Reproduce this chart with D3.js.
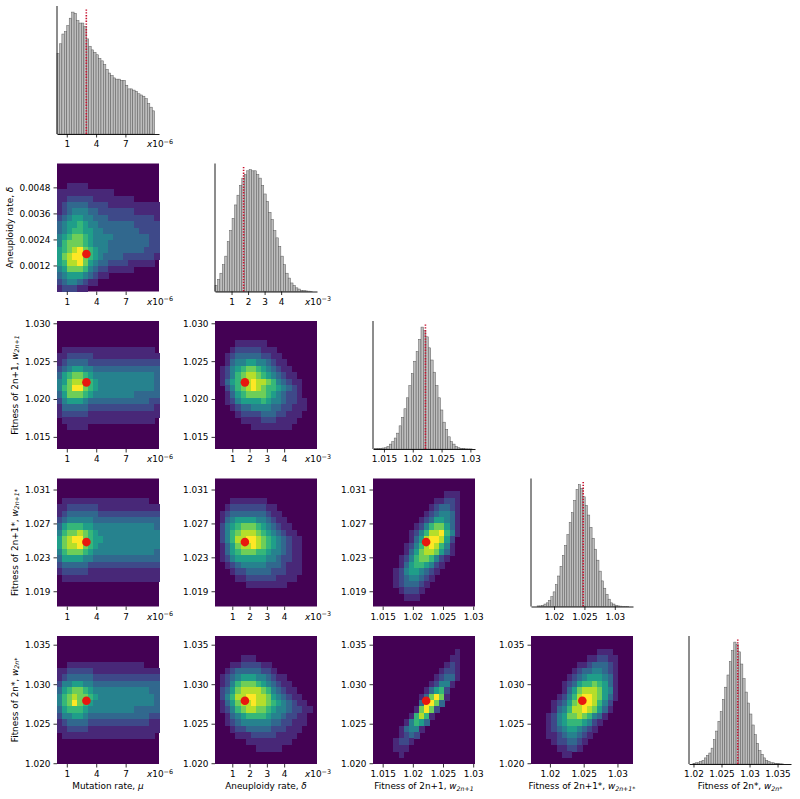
<!DOCTYPE html>
<html><head><meta charset="utf-8">
<script src="https://cdn.jsdelivr.net/npm/d3@7"></script>
<style>body{margin:0;background:#fff}svg{display:block}text{font-family:"DejaVu Sans",sans-serif}</style>
</head><body><svg id="c" width="800" height="799"></svg>
<script>
// ---------- data ----------
const paramNames = ["mu", "delta", "w2n1", "w2n1s", "w2ns"];
const trueValues = [3.0e-6, 0.00173, 1.0222, 1.0248, 1.0279];

// 1D histograms (relative heights, 40 bins each)
const muHist = [0.66,0.74,0.82,0.84,0.89,0.95,1.0,0.99,0.93,0.91,0.91,0.88,0.78,0.72,0.69,0.67,0.65,0.62,0.60,0.57,
                0.53,0.50,0.48,0.46,0.45,0.45,0.44,0.44,0.40,0.37,0.37,0.36,0.35,0.33,0.32,0.31,0.29,0.25,0.22,0.19];
const deltaHist = [0.05,0.10,0.15,0.22,0.29,0.41,0.50,0.60,0.71,0.79,0.87,0.93,0.96,0.99,1.0,0.99,0.99,0.96,0.93,0.87,
                   0.80,0.74,0.65,0.59,0.50,0.44,0.37,0.29,0.22,0.15,0.11,0.07,0.05,0.03,0.02,0.01,0.01,0.005,0.003,0.002];
const w2n1Hist = [0.003,0.005,0.006,0.008,0.01,0.02,0.04,0.06,0.09,0.13,0.19,0.26,0.33,0.42,0.52,0.62,0.72,0.80,0.90,1.0,
                  0.97,0.92,0.83,0.73,0.63,0.52,0.42,0.32,0.22,0.16,0.10,0.06,0.04,0.02,0.01,0.005,0.003,0.002,0.001,0.001];
const w2n1sHist = [0.005,0.005,0.01,0.02,0.03,0.05,0.08,0.12,0.18,0.25,0.33,0.42,0.50,0.59,0.69,0.77,0.87,0.96,1.0,0.97,
                   0.90,0.83,0.75,0.65,0.56,0.47,0.38,0.29,0.21,0.15,0.10,0.06,0.03,0.02,0.01,0.005,0.003,0.002,0.001,0.001];
const w2nsHist = [0.005,0.01,0.01,0.02,0.03,0.05,0.07,0.09,0.13,0.20,0.27,0.35,0.43,0.53,0.63,0.73,0.84,0.93,1.0,0.98,
                  0.92,0.82,0.70,0.59,0.50,0.41,0.32,0.24,0.17,0.11,0.08,0.05,0.03,0.02,0.01,0.01,0.005,0.005,0.002,0.001];

// value ranges
const heatDomains = [[0, 10.4e-6], [0, 0.0059], [1.0134, 1.0303], [1.0172, 1.0323], [1.0199, 1.0361]];
const histAxisDomains = [[0, 10.44e-6], [0, 0.00617], [1.0131, 1.0308], [1.0162, 1.0330], [1.0192, 1.0374]];
const histBinRanges = [[0, 10e-6], [0, 0.0059], [1.0134, 1.0303], [1.0172, 1.0323], [1.0199, 1.0361]];

// ticks
const tickValues = [[1e-6, 4e-6, 7e-6], [0.001, 0.002, 0.003, 0.004], [1.015, 1.02, 1.025, 1.03], [1.02, 1.025, 1.03], [1.02, 1.025, 1.03, 1.035]];
const tickLabels = [["1","4","7"], ["1","2","3","4"], ["1.015","1.02","1.025","1.03"], ["1.02","1.025","1.03"], ["1.02","1.025","1.03","1.035"]];
const yTickValues = [null, [0.0012, 0.0024, 0.0036, 0.0048], [1.015, 1.02, 1.025, 1.03], [1.019, 1.023, 1.027, 1.031], [1.02, 1.025, 1.03, 1.035]];
const yTickLabels = [null, ["0.0012","0.0024","0.0036","0.0048"], ["1.015","1.020","1.025","1.030"], ["1.019","1.023","1.027","1.031"], ["1.020","1.025","1.030","1.035"]];
const exponents = ["−6", "−3", null, null, null];

// axis labels: [plain text, math symbol, subscript]
const axisLabels = [["Mutation rate, ", "μ", ""], ["Aneuploidy rate, ", "δ", ""], ["Fitness of 2n+1, ", "w", "2n+1"],
                    ["Fitness of 2n+1*, ", "w", "2n+1*"], ["Fitness of 2n*, ", "w", "2n*"]];

// 2D histograms (0-9 density levels), 20x20, top row first; key = "row,col" (y param, x param)
const heat_1_0 = [
"00000000000000000000","00000000000000000000","00000000000000000000","00111100000000000000",
"11111111111000000000","11222221111111100000","12333322221111111111","12344433222222211111",
"23455443332222222221","34556544333333322222","34566554433333332222","45677654444333333322",
"46777654443333333322","56789765443333333222","57899765433332222221","56889754332222111110",
"45777643221111100000","34555432110000000000","23443211000000000000","12221100000000000000"];
const heat_2_0 = [
"00000000000000000000","00000000000000000000","00000000000000000000","00000000000000000000",
"01111111111111111110","11222221111111111111","12333322222222222222","23455443333333333333",
"35677654444444444443","45788765444444444443","46799765444444444443","35777654444444433333",
"24555433333333333322","13333322222222222221","12222211111111111111","01111111111111111110",
"00111100000000000000","00000000000000000000","00000000000000000000","00000000000000000000"];
const heat_3_0 = [
"00000000000000000000","00000000000000000000","00000000000000000000","01111111111111111100",
"11222222111111111111","12333333222222222222","23444443333333333333","35666554444444444443",
"46778765444444444444","57899765544444444444","57889765444444444444","46777654444444444443",
"35555443333333333333","23333322222222222222","12222211111111111111","01111111111111111111",
"00000000000000000000","00000000000000000000","00000000000000000000","00000000000000000000"];
const heat_4_0 = [
"00000000000000000000","00000000000000000000","00000000000000000000","00000000000000000000",
"00111111111111111000","11222221111111111111","12333332222222222222","24455443333333333333",
"35677654444444444433","46787765444444444443","46797654444444444443","35666544444444433333",
"24455433333333333322","12333322222222222211","11222211111111111111","01111111111111111110",
"00000000000000000000","00000000000000000000","00000000000000000000","00000000000000000000"];
const heat_2_1 = [
"00000000000000000000","00000000000000000000","00000000000000000000","00001111110000000000",
"00012222211100000000","00123333322110000000","00134455443211000000","01245677654321100000",
"01246788765432110000","01356789887643211000","00246789876654321000","00135677776543221000",
"00124555565443221100","00012334444332211100","00001222233322111000","00000111122211110000",
"00000001111111100000","00000000000000000000","00000000000000000000","00000000000000000000"];
const heat_3_1 = [
"00000000000000000000","00000000000000000000","00000000000000000000","00011111110000000000",
"00122222221100000000","01233333332110000000","01345555443211000000","02456777654321100000",
"02467888765432110000","02468899876543211000","01357889876543211000","01356777665443211000",
"01245555554432211000","00123444443332111000","00012233333222111000","00001122222211110000",
"00000011111111000000","00000000000000000000","00000000000000000000","00000000000000000000"];
const heat_4_1 = [
"00000000000000000000","00000000000000000000","00000000000000000000","00000111000000000000",
"00011222211000000000","00123333322100000000","01234555443211000000","01246777654321100000",
"02357888876432110000","02468899887543211000","01357889887654321100","01246788776544322110",
"00134566665443221100","00123444444332211100","00012233333222111000","00001112222211110000",
"00000011111111100000","00000000111110000000","00000000000000000000","00000000000000000000"];
const heat_3_2 = [
"00000000000000000000","00000000000000000000","00000000000000111000","00000000000011221000",
"00000000000123321000","00000000001234431000","00000000012355431000","00000000124677531000",
"00000001246889641000","00000001358998520000","00000012468986410000","00000013578875310000",
"00000124677642100000","00000135665421000000","00001245543210000000","00001234432100000000",
"00001233321000000000","00000122210000000000","00000011100000000000","00000000000000000000"];
const heat_4_2 = [
"00000000000000000000","00000000000000000000","00000000000000001000","00000000000000011000",
"00000000000000121000","00000000000001221000","00000000000012331000","00000000000124410000",
"00000000001356200000","00000000013797100000","00000000039973000000","00000000179720000000",
"00000001686100000000","00000014653000000000","00000134410000000000","00000123200000000000",
"00001221000000000000","00001110000000000000","00000100000000000000","00000000000000000000"];
const heat_4_3 = [
"00000000000000000000","00000000000000000000","00000000000001110000","00000000000112211000",
"00000000011233321000","00000000123344321000","00000001234555431000","00000012356676531000",
"00000013578887541000","00000124689987531000","00001235789986420000","00001346889875310000",
"00012457787643100000","00012456665421000000","00012345543210000000","00011234432100000000",
"00001223321000000000","00000112210000000000","00000011000000000000","00000000000000000000"];
const heatGrids = {"1,0":heat_1_0,"2,0":heat_2_0,"3,0":heat_3_0,"4,0":heat_4_0,"2,1":heat_2_1,"3,1":heat_3_1,
                   "4,1":heat_4_1,"3,2":heat_3_2,"4,2":heat_4_2,"4,3":heat_4_3};
const histData = [muHist, deltaHist, w2n1Hist, w2n1sHist, w2nsHist];

// ---------- layout ----------
const W = 102, H = 128;
const colLeft = i => 57 + 158 * i;
const rowTop = j => 6 + 157.5 * j;
const FS = 8.9;
const svg = d3.select("#c");

function styleAxis(g) {
  g.selectAll("text").attr("font-size", FS).attr("fill", "#000").attr("font-family", '"DejaVu Sans",sans-serif');
  g.selectAll("line").attr("stroke", "#000").attr("stroke-width", 0.8);
}
function addExponent(g, i) {
  if (!exponents[i]) return;
  const t = g.append("text").attr("x", W - 12).attr("y", H + 7).attr("dy", "0.71em")
    .attr("font-size", FS).attr("fill", "#000");
  t.append("tspan").attr("font-style", "italic").text("x");
  t.append("tspan").text("10");
  t.append("tspan").attr("font-size", FS * 0.72).attr("dy", "-0.55em").text(exponents[i]);
}
function addLabel(t, lab) {
  t.append("tspan").text(lab[0]);
  t.append("tspan").attr("font-style", "italic").text(lab[1]);
  if (lab[2]) t.append("tspan").attr("font-style", "italic").attr("font-size", FS * 0.7).attr("dy", "0.3em").text(lab[2]);
}

const n = 5;
for (let j = 0; j < n; j++) {
  for (let i = 0; i <= j; i++) {
    const g = svg.append("g").attr("transform", `translate(${colLeft(i)},${rowTop(j)})`);
    if (i === j) {
      // histogram
      const x = d3.scaleLinear().domain(histAxisDomains[i]).range([0, W]);
      const y = d3.scaleLinear().domain([0, 1.05]).range([H, 0]);
      const counts = histData[i];
      const [lo, hi] = histBinRanges[i];
      const bw = (hi - lo) / counts.length;
      g.selectAll("rect.bar").data(counts).join("rect").attr("class", "bar")
        .attr("x", (d, k) => x(lo + k * bw)).attr("width", (d, k) => x(lo + (k + 1) * bw) - x(lo + k * bw))
        .attr("y", d => y(d)).attr("height", d => H - y(d))
        .attr("fill", "#bdbdbd").attr("stroke", "#5a5a5a").attr("stroke-width", 0.5);
      g.append("line").attr("x1", x(trueValues[i])).attr("x2", x(trueValues[i]))
        .attr("y1", H).attr("y2", 2).attr("stroke", "#c8102e").attr("stroke-width", 1.6)
        .attr("stroke-dasharray", "1.4,1.4");
      const ax = g.append("g").attr("transform", `translate(0,${H})`)
        .call(d3.axisBottom(x).tickValues(tickValues[i]).tickFormat((d, k) => tickLabels[i][k]).tickSize(3.5).tickPadding(3.5).tickSizeOuter(0));
      ax.select(".domain").attr("stroke", "#000").attr("stroke-width", 0.9);
      styleAxis(ax);
      g.append("line").attr("x1", 0).attr("x2", 0).attr("y1", 0).attr("y2", H).attr("stroke", "#000").attr("stroke-width", 0.9);
      addExponent(g, i);
    } else {
      const xd = heatDomains[i], yd = heatDomains[j];
      const x = d3.scaleLinear().domain(xd).range([0, W]);
      const y = d3.scaleLinear().domain(yd).range([H, 0]);
      const grid = heatGrids[j + "," + i];
      const nr = grid.length, nc = 20;
      const cells = [];
      grid.forEach((row, r) => {
        for (let c = 0; c < nc; c++) cells.push({c, b: nr - 1 - r, v: +(row[c] || 0)});
      });
      const bx = (xd[1] - xd[0]) / nc, by = (yd[1] - yd[0]) / nr;
      g.append("rect").attr("width", W).attr("height", H).attr("fill", d3.interpolateViridis(0));
      g.selectAll("rect.cell").data(cells.filter(d => d.v > 0)).join("rect").attr("class", "cell")
        .attr("shape-rendering", "crispEdges")
        .attr("x", d => x(xd[0] + d.c * bx)).attr("width", d => x(xd[0] + (d.c + 1) * bx) - x(xd[0] + d.c * bx) + 0.6)
        .attr("y", d => y(yd[0] + (d.b + 1) * by)).attr("height", d => y(yd[0] + d.b * by) - y(yd[0] + (d.b + 1) * by) + 0.6)
        .attr("fill", d => d3.interpolateViridis(d.v / 9));
      g.append("circle").attr("cx", x(trueValues[i])).attr("cy", y(trueValues[j])).attr("r", 4.3).attr("fill", "#e8170f");
      const ax = g.append("g").attr("transform", `translate(0,${H})`)
        .call(d3.axisBottom(x).tickValues(tickValues[i]).tickFormat((d, k) => tickLabels[i][k]).tickSize(3.5).tickPadding(3.5));
      ax.select(".domain").remove();
      styleAxis(ax);
      const ay = g.append("g")
        .call(d3.axisLeft(y).tickValues(yTickValues[j]).tickFormat((d, k) => yTickLabels[j][k]).tickSize(3.5).tickPadding(3));
      ay.select(".domain").remove();
      styleAxis(ay);
      addExponent(g, i);
    }
  }
}
// x labels (bottom row)
for (let i = 0; i < n; i++) {
  const t = svg.append("text").attr("x", colLeft(i) + W / 2).attr("y", rowTop(4) + H + 25)
    .attr("text-anchor", "middle").attr("font-size", FS).attr("fill", "#000");
  addLabel(t, axisLabels[i]);
}
// y labels (first column)
for (let j = 1; j < n; j++) {
  const bx = j === 1 ? 12.5 : 17.5;
  const t = svg.append("text").attr("transform", `translate(${bx},${rowTop(j) + H / 2}) rotate(-90)`)
    .attr("text-anchor", "middle").attr("font-size", FS).attr("fill", "#000");
  addLabel(t, axisLabels[j]);
}
</script></body></html>
